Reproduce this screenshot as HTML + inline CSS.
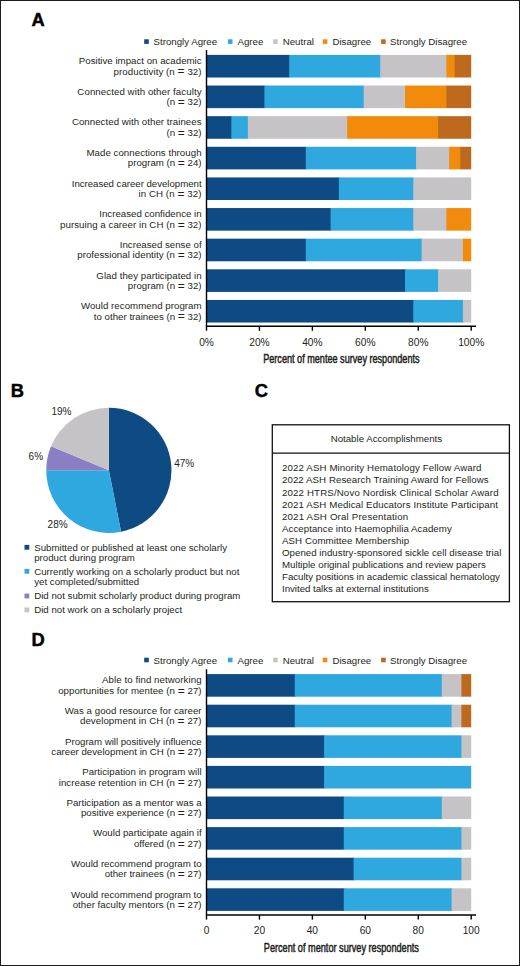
<!DOCTYPE html>
<html><head><meta charset="utf-8"><style>
html,body{margin:0;padding:0;background:#fff;}
svg{display:block;}
text{font-family:"Liberation Sans",sans-serif;}
.cond{font-size:12.6px;stroke:#231f20;stroke-width:0.5px;}
</style></head><body>
<svg width="520" height="966" viewBox="0 0 520 966">
<rect x="0.5" y="0.5" width="519" height="965" fill="#fff" stroke="#1c1c1c" stroke-width="1"/>
<g font-family="Liberation Sans" font-size="9.7" fill="#231f20">
<text x="31.6" y="25.8" font-weight="bold" font-size="18.3" stroke="#000" stroke-width="0.45" fill="#000">A</text>
<text x="10.8" y="396.6" font-weight="bold" font-size="18.3" stroke="#000" stroke-width="0.45" fill="#000">B</text>
<text x="254.8" y="396.6" font-weight="bold" font-size="18.3" stroke="#000" stroke-width="0.45" fill="#000">C</text>
<text x="31.6" y="645.8" font-weight="bold" font-size="18.3" stroke="#000" stroke-width="0.45" fill="#000">D</text>
<rect x="144.2" y="39.3" width="4.6" height="4.6" fill="#0e4a83"/>
<text x="153.5" y="44.5">Strongly Agree</text>
<rect x="227.9" y="39.3" width="4.6" height="4.6" fill="#2fa8df"/>
<text x="237.5" y="44.5">Agree</text>
<rect x="273.1" y="39.3" width="4.6" height="4.6" fill="#c5c3c6"/>
<text x="282.7" y="44.5">Neutral</text>
<rect x="322.8" y="39.3" width="4.6" height="4.6" fill="#f28b0c"/>
<text x="332.4" y="44.5">Disagree</text>
<rect x="381.1" y="39.3" width="4.6" height="4.6" fill="#bd6a1e"/>
<text x="390.1" y="44.5">Strongly Disagree</text>
<rect x="206.50" y="54.90" width="83.42" height="22.6" fill="#0e4a83"/>
<rect x="289.22" y="54.90" width="91.69" height="22.6" fill="#2fa8df"/>
<rect x="380.21" y="54.90" width="66.87" height="22.6" fill="#c5c3c6"/>
<rect x="446.38" y="54.90" width="8.97" height="22.6" fill="#f28b0c"/>
<rect x="454.66" y="54.90" width="16.54" height="22.6" fill="#bd6a1e"/>
<rect x="206.50" y="85.53" width="58.60" height="22.6" fill="#0e4a83"/>
<rect x="264.40" y="85.53" width="99.96" height="22.6" fill="#2fa8df"/>
<rect x="363.67" y="85.53" width="42.06" height="22.6" fill="#c5c3c6"/>
<rect x="405.02" y="85.53" width="42.06" height="22.6" fill="#f28b0c"/>
<rect x="446.38" y="85.53" width="24.82" height="22.6" fill="#bd6a1e"/>
<rect x="206.50" y="116.16" width="25.52" height="22.6" fill="#0e4a83"/>
<rect x="231.32" y="116.16" width="17.24" height="22.6" fill="#2fa8df"/>
<rect x="247.86" y="116.16" width="99.96" height="22.6" fill="#c5c3c6"/>
<rect x="347.12" y="116.16" width="91.69" height="22.6" fill="#f28b0c"/>
<rect x="438.11" y="116.16" width="33.09" height="22.6" fill="#bd6a1e"/>
<rect x="206.50" y="146.79" width="99.96" height="22.6" fill="#0e4a83"/>
<rect x="305.76" y="146.79" width="110.99" height="22.6" fill="#2fa8df"/>
<rect x="416.05" y="146.79" width="33.79" height="22.6" fill="#c5c3c6"/>
<rect x="449.14" y="146.79" width="11.73" height="22.6" fill="#f28b0c"/>
<rect x="460.17" y="146.79" width="11.03" height="22.6" fill="#bd6a1e"/>
<rect x="206.50" y="177.42" width="133.05" height="22.6" fill="#0e4a83"/>
<rect x="338.85" y="177.42" width="75.15" height="22.6" fill="#2fa8df"/>
<rect x="413.30" y="177.42" width="57.90" height="22.6" fill="#c5c3c6"/>
<rect x="206.50" y="208.05" width="124.78" height="22.6" fill="#0e4a83"/>
<rect x="330.58" y="208.05" width="83.42" height="22.6" fill="#2fa8df"/>
<rect x="413.30" y="208.05" width="33.79" height="22.6" fill="#c5c3c6"/>
<rect x="446.38" y="208.05" width="24.82" height="22.6" fill="#f28b0c"/>
<rect x="206.50" y="238.68" width="99.96" height="22.6" fill="#0e4a83"/>
<rect x="305.76" y="238.68" width="116.51" height="22.6" fill="#2fa8df"/>
<rect x="421.57" y="238.68" width="42.06" height="22.6" fill="#c5c3c6"/>
<rect x="462.93" y="238.68" width="8.27" height="22.6" fill="#f28b0c"/>
<rect x="206.50" y="269.31" width="199.22" height="22.6" fill="#0e4a83"/>
<rect x="405.02" y="269.31" width="33.79" height="22.6" fill="#2fa8df"/>
<rect x="438.11" y="269.31" width="33.09" height="22.6" fill="#c5c3c6"/>
<rect x="206.50" y="299.94" width="207.50" height="22.6" fill="#0e4a83"/>
<rect x="413.30" y="299.94" width="50.33" height="22.6" fill="#2fa8df"/>
<rect x="462.93" y="299.94" width="8.27" height="22.6" fill="#c5c3c6"/>
<text x="201.6" y="64.20" text-anchor="end">Positive impact on academic</text>
<text x="201.6" y="74.60" text-anchor="end" letter-spacing="0.060">productivity (n <tspan font-size="12" dy="0.75">=</tspan><tspan dy="-0.75"> </tspan>32)</text>
<text x="201.6" y="94.83" text-anchor="end" letter-spacing="0.071">Connected with other faculty</text>
<text x="201.6" y="105.23" text-anchor="end">(n <tspan font-size="12" dy="0.75">=</tspan><tspan dy="-0.75"> </tspan>32)</text>
<text x="201.6" y="125.46" text-anchor="end" letter-spacing="0.034">Connected with other trainees</text>
<text x="201.6" y="135.86" text-anchor="end">(n <tspan font-size="12" dy="0.75">=</tspan><tspan dy="-0.75"> </tspan>32)</text>
<text x="201.6" y="156.09" text-anchor="end" letter-spacing="0.042">Made connections through</text>
<text x="201.6" y="166.49" text-anchor="end">program (n <tspan font-size="12" dy="0.75">=</tspan><tspan dy="-0.75"> </tspan>24)</text>
<text x="201.6" y="186.72" text-anchor="end" letter-spacing="-0.036">Increased career development</text>
<text x="201.6" y="197.12" text-anchor="end" letter-spacing="0.089">in CH (n <tspan font-size="12" dy="0.75">=</tspan><tspan dy="-0.75"> </tspan>32)</text>
<text x="201.6" y="217.35" text-anchor="end">Increased confidence in</text>
<text x="201.6" y="227.75" text-anchor="end" letter-spacing="0.047">pursuing a career in CH (n <tspan font-size="12" dy="0.75">=</tspan><tspan dy="-0.75"> </tspan>32)</text>
<text x="201.6" y="247.98" text-anchor="end">Increased sense of</text>
<text x="201.6" y="258.38" text-anchor="end" letter-spacing="0.033">professional identity (n <tspan font-size="12" dy="0.75">=</tspan><tspan dy="-0.75"> </tspan>32)</text>
<text x="201.6" y="278.61" text-anchor="end" letter-spacing="0.030">Glad they participated in</text>
<text x="201.6" y="289.01" text-anchor="end">program (n <tspan font-size="12" dy="0.75">=</tspan><tspan dy="-0.75"> </tspan>32)</text>
<text x="201.6" y="309.24" text-anchor="end" letter-spacing="0.033">Would recommend program</text>
<text x="201.6" y="319.64" text-anchor="end">to other trainees (n <tspan font-size="12" dy="0.75">=</tspan><tspan dy="-0.75"> </tspan>32)</text>
<line x1="206.5" y1="50" x2="206.5" y2="330.8" stroke="#000" stroke-width="1.4"/>
<line x1="205.9" y1="326.2" x2="476" y2="326.2" stroke="#000" stroke-width="1.4"/>
<text x="206.50" y="345.6" text-anchor="middle" font-size="10.2">0%</text>
<line x1="259.44" y1="326.2" x2="259.44" y2="330.8" stroke="#000" stroke-width="1.4"/>
<text x="259.44" y="345.6" text-anchor="middle" font-size="10.2">20%</text>
<line x1="312.38" y1="326.2" x2="312.38" y2="330.8" stroke="#000" stroke-width="1.4"/>
<text x="312.38" y="345.6" text-anchor="middle" font-size="10.2">40%</text>
<line x1="365.32" y1="326.2" x2="365.32" y2="330.8" stroke="#000" stroke-width="1.4"/>
<text x="365.32" y="345.6" text-anchor="middle" font-size="10.2">60%</text>
<line x1="418.26" y1="326.2" x2="418.26" y2="330.8" stroke="#000" stroke-width="1.4"/>
<text x="418.26" y="345.6" text-anchor="middle" font-size="10.2">80%</text>
<line x1="471.20" y1="326.2" x2="471.20" y2="330.8" stroke="#000" stroke-width="1.4"/>
<text x="471.20" y="345.6" text-anchor="middle" font-size="10.2">100%</text>
<text x="263.2" y="363" class="cond" textLength="156.4" lengthAdjust="spacingAndGlyphs">Percent of mentee survey respondents</text>
<path d="M108.85,470.3 L108.85,407.70 A62.6,62.6 0 0 1 121.06,531.70 Z" fill="#0e4a83"/>
<path d="M108.85,470.3 L121.06,531.70 A62.6,62.6 0 0 1 46.25,470.30 Z" fill="#2fa8df"/>
<path d="M108.85,470.3 L46.25,470.30 A62.6,62.6 0 0 1 51.02,446.34 Z" fill="#8b7fc3"/>
<path d="M108.85,470.3 L51.02,446.34 A62.6,62.6 0 0 1 108.85,407.70 Z" fill="#c5c3c6"/>
<text x="51.4" y="414.9" font-size="10">19%</text>
<text x="28.6" y="459.5" font-size="10">6%</text>
<text x="174.2" y="466.8" font-size="10">47%</text>
<text x="47.6" y="527.8" font-size="10">28%</text>
<rect x="24.5" y="544.90" width="4.8" height="4.8" fill="#0e4a83"/>
<text x="34.2" y="550.50">Submitted or published at least one scholarly</text>
<text x="34.2" y="560.70">product during program</text>
<rect x="24.5" y="568.90" width="4.8" height="4.8" fill="#2fa8df"/>
<text x="34.2" y="574.50">Currently working on a scholarly product but not</text>
<text x="34.2" y="584.70">yet completed/submitted</text>
<rect x="24.5" y="593.60" width="4.8" height="4.8" fill="#8b7fc3"/>
<text x="34.2" y="599.20">Did not submit scholarly product during program</text>
<rect x="24.5" y="607.50" width="4.8" height="4.8" fill="#c5c3c6"/>
<text x="34.2" y="613.10">Did not work on a scholarly project</text>
<rect x="272.3" y="424.8" width="237.1" height="176.9" fill="none" stroke="#111" stroke-width="1.3"/>
<line x1="272.3" y1="453.1" x2="509.4" y2="453.1" stroke="#111" stroke-width="1.3"/>
<text x="386.4" y="441.7" text-anchor="middle">Notable Accomplishments</text>
<text x="282" y="471.40" textLength="199.49">2022 ASH Minority Hematology Fellow Award</text>
<text x="282" y="483.47" textLength="206.67">2022 ASH Research Training Award for Fellows</text>
<text x="282" y="495.54" textLength="216.62">2022 HTRS/Novo Nordisk Clinical Scholar Award</text>
<text x="282" y="507.61" textLength="215.86">2021 ASH Medical Educators Institute Participant</text>
<text x="282" y="519.68" textLength="126.11">2021 ASH Oral Presentation</text>
<text x="282" y="531.75" textLength="169.73">Acceptance into Haemophilia Academy</text>
<text x="282" y="543.82" textLength="127.10">ASH Committee Membership</text>
<text x="282" y="555.89" textLength="219.36">Opened industry-sponsored sickle cell disease trial</text>
<text x="282" y="567.96" textLength="203.78">Multiple original publications and review papers</text>
<text x="282" y="580.03" textLength="217.89">Faculty positions in academic classical hematology</text>
<text x="282" y="592.10" textLength="146.73">Invited talks at external institutions</text>
<rect x="144.2" y="657.7" width="4.6" height="4.6" fill="#0e4a83"/>
<text x="153.5" y="663.5">Strongly Agree</text>
<rect x="227.9" y="657.7" width="4.6" height="4.6" fill="#2fa8df"/>
<text x="237.5" y="663.5">Agree</text>
<rect x="273.1" y="657.7" width="4.6" height="4.6" fill="#c5c3c6"/>
<text x="282.7" y="663.5">Neutral</text>
<rect x="322.8" y="657.7" width="4.6" height="4.6" fill="#f28b0c"/>
<text x="332.4" y="663.5">Disagree</text>
<rect x="381.1" y="657.7" width="4.6" height="4.6" fill="#bd6a1e"/>
<text x="390.1" y="663.5">Strongly Disagree</text>
<rect x="206.50" y="674.10" width="88.93" height="22.6" fill="#0e4a83"/>
<rect x="294.73" y="674.10" width="147.76" height="22.6" fill="#2fa8df"/>
<rect x="441.79" y="674.10" width="20.31" height="22.6" fill="#c5c3c6"/>
<rect x="461.40" y="674.10" width="9.80" height="22.6" fill="#bd6a1e"/>
<rect x="206.50" y="704.70" width="88.93" height="22.6" fill="#0e4a83"/>
<rect x="294.73" y="704.70" width="157.56" height="22.6" fill="#2fa8df"/>
<rect x="451.59" y="704.70" width="10.50" height="22.6" fill="#c5c3c6"/>
<rect x="461.40" y="704.70" width="9.80" height="22.6" fill="#bd6a1e"/>
<rect x="206.50" y="735.30" width="118.34" height="22.6" fill="#0e4a83"/>
<rect x="324.14" y="735.30" width="137.95" height="22.6" fill="#2fa8df"/>
<rect x="461.40" y="735.30" width="9.80" height="22.6" fill="#c5c3c6"/>
<rect x="206.50" y="765.90" width="118.34" height="22.6" fill="#0e4a83"/>
<rect x="324.14" y="765.90" width="147.06" height="22.6" fill="#2fa8df"/>
<rect x="206.50" y="796.50" width="137.95" height="22.6" fill="#0e4a83"/>
<rect x="343.75" y="796.50" width="98.74" height="22.6" fill="#2fa8df"/>
<rect x="441.79" y="796.50" width="29.41" height="22.6" fill="#c5c3c6"/>
<rect x="206.50" y="827.10" width="137.95" height="22.6" fill="#0e4a83"/>
<rect x="343.75" y="827.10" width="118.34" height="22.6" fill="#2fa8df"/>
<rect x="461.40" y="827.10" width="9.80" height="22.6" fill="#c5c3c6"/>
<rect x="206.50" y="857.70" width="147.76" height="22.6" fill="#0e4a83"/>
<rect x="353.56" y="857.70" width="108.54" height="22.6" fill="#2fa8df"/>
<rect x="461.40" y="857.70" width="9.80" height="22.6" fill="#c5c3c6"/>
<rect x="206.50" y="888.30" width="137.95" height="22.6" fill="#0e4a83"/>
<rect x="343.75" y="888.30" width="108.54" height="22.6" fill="#2fa8df"/>
<rect x="451.59" y="888.30" width="19.61" height="22.6" fill="#c5c3c6"/>
<text x="201.6" y="683.40" text-anchor="end" letter-spacing="0.065">Able to find networking</text>
<text x="201.6" y="693.80" text-anchor="end" letter-spacing="0.038">opportunities for mentee (n <tspan font-size="12" dy="0.75">=</tspan><tspan dy="-0.75"> </tspan>27)</text>
<text x="201.6" y="714.00" text-anchor="end" letter-spacing="0.033">Was a good resource for career</text>
<text x="201.6" y="724.40" text-anchor="end" letter-spacing="0.058">development in CH (n <tspan font-size="12" dy="0.75">=</tspan><tspan dy="-0.75"> </tspan>27)</text>
<text x="201.6" y="744.60" text-anchor="end" letter-spacing="-0.023">Program will positively influence</text>
<text x="201.6" y="755.00" text-anchor="end">career development in CH (n <tspan font-size="12" dy="0.75">=</tspan><tspan dy="-0.75"> </tspan>27)</text>
<text x="201.6" y="775.20" text-anchor="end" letter-spacing="0.034">Participation in program will</text>
<text x="201.6" y="785.60" text-anchor="end" letter-spacing="0.038">increase retention in CH (n <tspan font-size="12" dy="0.75">=</tspan><tspan dy="-0.75"> </tspan>27)</text>
<text x="201.6" y="805.80" text-anchor="end">Participation as a mentor was a</text>
<text x="201.6" y="816.20" text-anchor="end">positive experience (n <tspan font-size="12" dy="0.75">=</tspan><tspan dy="-0.75"> </tspan>27)</text>
<text x="201.6" y="836.40" text-anchor="end">Would participate again if</text>
<text x="201.6" y="846.80" text-anchor="end">offered (n <tspan font-size="12" dy="0.75">=</tspan><tspan dy="-0.75"> </tspan>27)</text>
<text x="201.6" y="867.00" text-anchor="end">Would recommend program to</text>
<text x="201.6" y="877.40" text-anchor="end">other trainees (n <tspan font-size="12" dy="0.75">=</tspan><tspan dy="-0.75"> </tspan>27)</text>
<text x="201.6" y="897.60" text-anchor="end">Would recommend program to</text>
<text x="201.6" y="908.00" text-anchor="end" letter-spacing="0.025">other faculty mentors (n <tspan font-size="12" dy="0.75">=</tspan><tspan dy="-0.75"> </tspan>27)</text>
<line x1="206.5" y1="669.2" x2="206.5" y2="919.6" stroke="#000" stroke-width="1.4"/>
<line x1="205.9" y1="915.0" x2="476" y2="915.0" stroke="#000" stroke-width="1.4"/>
<text x="206.50" y="933.7" text-anchor="middle" font-size="10.2">0</text>
<line x1="259.44" y1="915.0" x2="259.44" y2="919.6" stroke="#000" stroke-width="1.4"/>
<text x="259.44" y="933.7" text-anchor="middle" font-size="10.2">20</text>
<line x1="312.38" y1="915.0" x2="312.38" y2="919.6" stroke="#000" stroke-width="1.4"/>
<text x="312.38" y="933.7" text-anchor="middle" font-size="10.2">40</text>
<line x1="365.32" y1="915.0" x2="365.32" y2="919.6" stroke="#000" stroke-width="1.4"/>
<text x="365.32" y="933.7" text-anchor="middle" font-size="10.2">60</text>
<line x1="418.26" y1="915.0" x2="418.26" y2="919.6" stroke="#000" stroke-width="1.4"/>
<text x="418.26" y="933.7" text-anchor="middle" font-size="10.2">80</text>
<line x1="471.20" y1="915.0" x2="471.20" y2="919.6" stroke="#000" stroke-width="1.4"/>
<text x="471.20" y="933.7" text-anchor="middle" font-size="10.2">100</text>
<text x="263.8" y="952.4" class="cond" textLength="155.1" lengthAdjust="spacingAndGlyphs">Percent of mentor survey respondents</text>
</g>
</svg>
</body></html>
